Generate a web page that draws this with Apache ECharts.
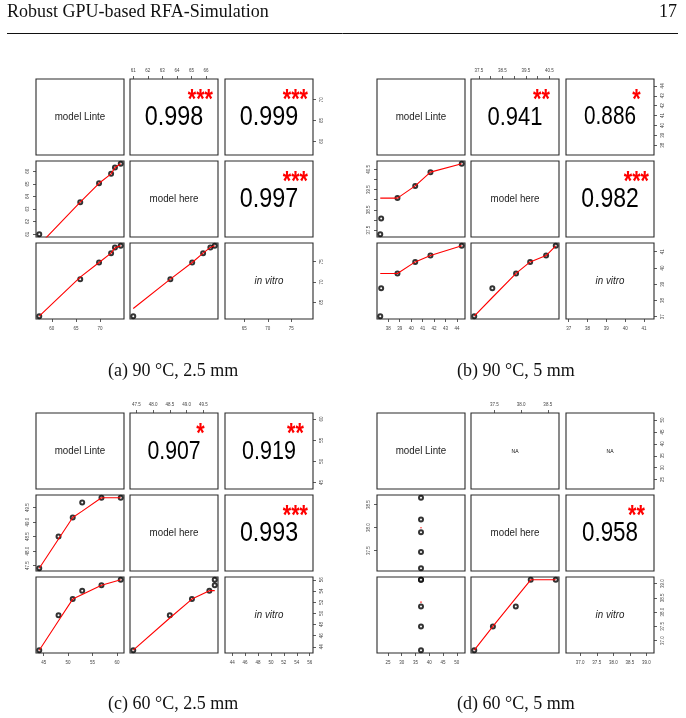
<!DOCTYPE html>
<html><head><meta charset="utf-8">
<script src="https://cdn.jsdelivr.net/npm/echarts@6/dist/echarts.min.js"></script>
<style>html,body{margin:0;padding:0;background:#fff}#c{width:686px;height:718px}</style>
</head><body><div id="c"></div>
<script>
// ---------- data ----------
const VAR_LABELS = ['model Linte', 'model here', 'in vitro'];
const VAR_ITALIC = [false, false, true];

// (a) 90 °C, 2.5 mm
const a_linte = [57.4, 65.9, 69.8, 72.3, 73.1, 74.3];
const a_here  = [61.0, 63.55, 65.05, 65.8, 66.3, 66.6];
const a_vitro = [61.6, 70.7, 74.8, 77.1, 78.5, 78.9];
const a_smooth_here_linte  = [60.15, 63.55, 65.05, 65.8, 66.3, 66.6];
const a_smooth_vitro_linte = [61.6, 71.2, 74.8, 77.1, 78.4, 78.9];
const a_smooth_vitro_here  = [63.5, 70.7, 74.8, 77.1, 78.5, 78.9];
const a_ticks_linte = [60, 65, 70];
const a_ticks_here  = [61, 62, 63, 64, 65, 66];
const a_ticks_vitro = [65, 70, 75];
const a_labels_here = [61, 62, 63, 64, 65, 66];
const a_cor = ['0.998', '0.999', '0.997'];
const a_sig = ['***', '***', '***'];

// (b) 90 °C, 5 mm
const b_linte = [37.3, 37.38, 38.8, 40.35, 41.68, 44.41];
const b_here  = [37.3, 38.07, 39.08, 39.68, 40.36, 40.77];
const b_vitro = [37.03, 38.75, 39.66, 40.37, 40.76, 41.36];
const b_smooth_here_linte  = [39.08, 39.08, 39.08, 39.68, 40.36, 40.77];
const b_smooth_vitro_linte = [39.66, 39.66, 39.66, 40.37, 40.76, 41.36];
const b_smooth_vitro_here  = [37.03, 38.18, 39.66, 40.37, 40.76, 41.36];
const b_ticks_linte = [38, 39, 40, 41, 42, 43, 44];
const b_ticks_here  = [37.5, 38, 38.5, 39, 39.5, 40, 40.5];
const b_labels_here = [37.5, 38.5, 39.5, 40.5];
const b_ticks_vitro = [37, 38, 39, 40, 41];
const b_cor = ['0.941', '0.886', '0.982'];
const b_sig = ['**', '*', '***'];

// (c) 60 °C, 2.5 mm
const c_linte = [44.1, 48.04, 50.94, 52.88, 56.82, 60.76];
const c_here  = [47.41, 48.5, 49.16, 49.68, 49.84, 49.84];
const c_vitro = [43.4, 49.64, 52.55, 54.06, 55.03, 56.0];
const c_smooth_here_linte  = [47.41, 48.42, 49.16, 49.38, 49.84, 49.84];
const c_smooth_vitro_linte = [43.4, 48.67, 52.55, 53.36, 55.03, 56.0];
const c_smooth_vitro_here  = [43.4, 49.16, 52.55, 54.06, 54.06, 54.06];
const c_ticks_linte = [45, 50, 55, 60];
const c_ticks_here  = [47.5, 48.0, 48.5, 49.0, 49.5];
const c_labels_here = [47.5, 48.0, 48.5, 49.0, 49.5];
const c_ticks_vitro = [44, 46, 48, 50, 52, 54, 56];
const c_cor = ['0.907', '0.919', '0.993'];
const c_sig = ['*', '**', '***'];

// (d) 60 °C, 5 mm
const d_linte = [37, 37, 37, 37, 37];
const d_here  = [37.12, 37.47, 37.9, 38.18, 38.65];
const d_vitro = [36.67, 37.5, 38.2, 39.13, 39.13];
const d_smooth_here_linte  = [38.0, 38.0, 38.0, 38.0, 38.0];
const d_smooth_vitro_linte = [38.35, 38.35, 38.35, 38.35, 38.35];
const d_smooth_vitro_here  = [36.67, 37.5, 38.49, 39.13, 39.13];
const d_ticks_linte = [25, 30, 35, 40, 45, 50];
const d_ticks_here  = [37.5, 38.0, 38.5];
const d_labels_here = [37.5, 38.0, 38.5];
const d_ticks_vitro = [37.0, 37.5, 38.0, 38.5, 39.0];
const d_cor = ['NA', 'NA', '0.958'];
const d_sig = ['', '', '**'];

const HEADER_TITLE = 'Robust GPU-based RFA-Simulation';
const HEADER_PAGE = '17';
const CAPTIONS = ['(a) 90 °C, 2.5 mm', '(b) 90 °C, 5 mm', '(c) 60 °C, 2.5 mm', '(d) 60 °C, 5 mm'];

const MATS = [
  {vars: [a_linte, a_here, a_vitro], smooth: {'1_0': a_smooth_here_linte, '2_0': a_smooth_vitro_linte, '2_1': a_smooth_vitro_here},
   ticks: [a_ticks_linte, a_ticks_here, a_ticks_vitro], labels: [a_ticks_linte, a_labels_here, a_ticks_vitro], dec: [0, 0, 0], cor: a_cor, sig: a_sig},
  {vars: [b_linte, b_here, b_vitro], smooth: {'1_0': b_smooth_here_linte, '2_0': b_smooth_vitro_linte, '2_1': b_smooth_vitro_here},
   ticks: [b_ticks_linte, b_ticks_here, b_ticks_vitro], labels: [b_ticks_linte, b_labels_here, b_ticks_vitro], dec: [0, 1, 0], cor: b_cor, sig: b_sig},
  {vars: [c_linte, c_here, c_vitro], smooth: {'1_0': c_smooth_here_linte, '2_0': c_smooth_vitro_linte, '2_1': c_smooth_vitro_here},
   ticks: [c_ticks_linte, c_ticks_here, c_ticks_vitro], labels: [c_ticks_linte, c_labels_here, c_ticks_vitro], dec: [0, 1, 0], cor: c_cor, sig: c_sig},
  {vars: [d_linte, d_here, d_vitro], smooth: {'1_0': d_smooth_here_linte, '2_0': d_smooth_vitro_linte, '2_1': d_smooth_vitro_here},
   ticks: [d_ticks_linte, d_ticks_here, d_ticks_vitro], labels: [d_ticks_linte, d_labels_here, d_ticks_vitro], dec: [0, 1, 1], cor: d_cor, sig: d_sig}
];

// ---------- layout ----------
const ORIGINS = [[36, 79], [377, 79], [36, 413], [377, 413]];
const COL_OFF = [0, 94, 189], COL_W = 88;
const ROW_OFF = [0, 82, 164], ROW_H = 76;
const CAPTION_POS = [[108, 371], [457, 371], [108, 704], [457, 704]];
const SANS = '"Liberation Sans", Arial, Helvetica, sans-serif';
const SERIF = '"Liberation Serif", "Times New Roman", serif';

// R-style axis range: 4% padding, zero range widened
function padRange(v) {
  let lo = Math.min(...v), hi = Math.max(...v);
  if (hi === lo) { const d = lo === 0 ? 1 : 0.4 * Math.abs(lo); lo -= d; hi += d; }
  const p = 0.04 * (hi - lo);
  return [lo - p, hi + p];
}

function axisCfg(isY, M, vi, gi, show, pos) {
  const [mn, mx] = padRange(M.vars[vi]);
  return {
    type: 'value', gridIndex: gi, min: mn, max: mx, position: pos,
    axisLine: {show: false}, splitLine: {show: false},
    axisTick: {show: show, length: 3, inside: false, customValues: M.ticks[vi], lineStyle: {color: '#333', width: 0.8}},
    axisLabel: {show: show, customValues: M.labels[vi], fontSize: 4.5, fontFamily: SANS, color: '#444',
      rotate: isY ? 90 : 0, margin: isY ? 6 : (pos === 'top' ? 6 : 7),
      formatter: v => Number(v).toFixed(M.dec[vi])}
  };
}

const grids = [], xAxes = [], yAxes = [], series = [], elements = [];

MATS.forEach((M, m) => {
  const [ox, oy] = ORIGINS[m];
  for (let r = 0; r < 3; r++) for (let c = 0; c < 3; c++) {
    const gi = grids.length;
    const left = ox + COL_OFF[c], top = oy + ROW_OFF[r];
    grids.push({left: left, top: top, width: COL_W, height: ROW_H, show: true, borderColor: '#2a2a2a', borderWidth: 1.1,
      backgroundColor: 'transparent', containLabel: false, outerBoundsMode: 'none'});
    const showTop = r === 0 && c === 1, showBottom = r === 2 && c !== 1;
    const showLeft = c === 0 && r === 1, showRight = c === 2 && r !== 1;
    xAxes.push(axisCfg(false, M, c, gi, showTop || showBottom, showTop ? 'top' : 'bottom'));
    yAxes.push(axisCfg(true, M, r, gi, showLeft || showRight, showLeft ? 'left' : 'right'));
    const cx = left + COL_W / 2, cy = top + ROW_H / 2;
    if (r === c) {
      elements.push({type: 'text', x: cx, y: cy, scaleX: 0.85, z: 10, style: {text: VAR_LABELS[r], fontSize: 11.5, fontFamily: SANS,
        fontStyle: VAR_ITALIC[r] ? 'italic' : 'normal', fill: '#222', textAlign: 'center', textVerticalAlign: 'middle'}});
    } else if (r > c) {
      const xs = M.vars[c], ys = M.vars[r], sm = M.smooth[r + '_' + c];
      series.push({type: 'scatter', xAxisIndex: gi, yAxisIndex: gi, symbol: 'emptyCircle', symbolSize: 4, z: 2,
        itemStyle: {color: '#000', borderColor: '#111', borderWidth: 0.9}, data: xs.map((x, i) => [x, ys[i]]), silent: true});
      const flat = Math.min(...xs) === Math.max(...xs);
      if (flat) {
        series.push({type: 'scatter', xAxisIndex: gi, yAxisIndex: gi, symbol: 'circle', symbolSize: 1.6, z: 3,
          itemStyle: {color: '#ff0000'}, data: [[xs[0], sm[0]]], silent: true});
      } else {
        series.push({type: 'line', xAxisIndex: gi, yAxisIndex: gi, showSymbol: false, clip: true, z: 3,
          lineStyle: {color: '#ff0000', width: 1.1}, data: xs.map((x, i) => [x, sm[i]]), silent: true});
      }
    } else {
      const k = (r === 0 && c === 1) ? 0 : (r === 0 && c === 2) ? 1 : 2;
      const txt = M.cor[k];
      const isNA = txt === 'NA';
      const fs = isNA ? 6 : 28.2 * Math.abs(parseFloat(txt));
      elements.push({type: 'text', x: cx, y: cy + 0.5, scaleX: 0.83, z: 10, style: {text: txt, fontSize: fs, fontFamily: SANS,
        fill: '#000', textAlign: 'center', textVerticalAlign: 'middle'}});
      if (M.sig[k]) {
        const sfs = 27;
        elements.push({type: 'text', x: left + 0.8 * COL_W, y: top + 0.2 * ROW_H + 0.22 * sfs, scaleX: 0.8, z: 10,
          style: {text: M.sig[k], fontSize: sfs, fontWeight: 'bold', fontFamily: SANS, fill: '#ff0000', textAlign: 'center', textVerticalAlign: 'middle'}});
      }
    }
  }
});

// page header and captions
elements.push({type: 'text', x: 7, y: 12.5, z: 10, style: {text: HEADER_TITLE, fontSize: 18, fontFamily: SERIF, fill: '#111', textAlign: 'left', textVerticalAlign: 'middle'}});
elements.push({type: 'text', x: 677, y: 12.5, z: 10, style: {text: HEADER_PAGE, fontSize: 18, fontFamily: SERIF, fill: '#111', textAlign: 'right', textVerticalAlign: 'middle'}});
elements.push({type: 'line', z: 10, shape: {x1: 7, y1: 33.5, x2: 678, y2: 33.5}, style: {stroke: '#111', lineWidth: 1}});
CAPTIONS.forEach((t, i) => {
  elements.push({type: 'text', x: CAPTION_POS[i][0], y: CAPTION_POS[i][1], z: 10, style: {text: t, fontSize: 18, fontFamily: SERIF, fill: '#111', textAlign: 'left', textVerticalAlign: 'middle'}});
});

const chart = echarts.init(document.getElementById('c'), null, {renderer: 'canvas'});
chart.setOption({
  animation: false,
  backgroundColor: '#fff',
  grid: grids, xAxis: xAxes, yAxis: yAxes, series: series,
  graphic: {elements: elements}
});
</script></body></html>
